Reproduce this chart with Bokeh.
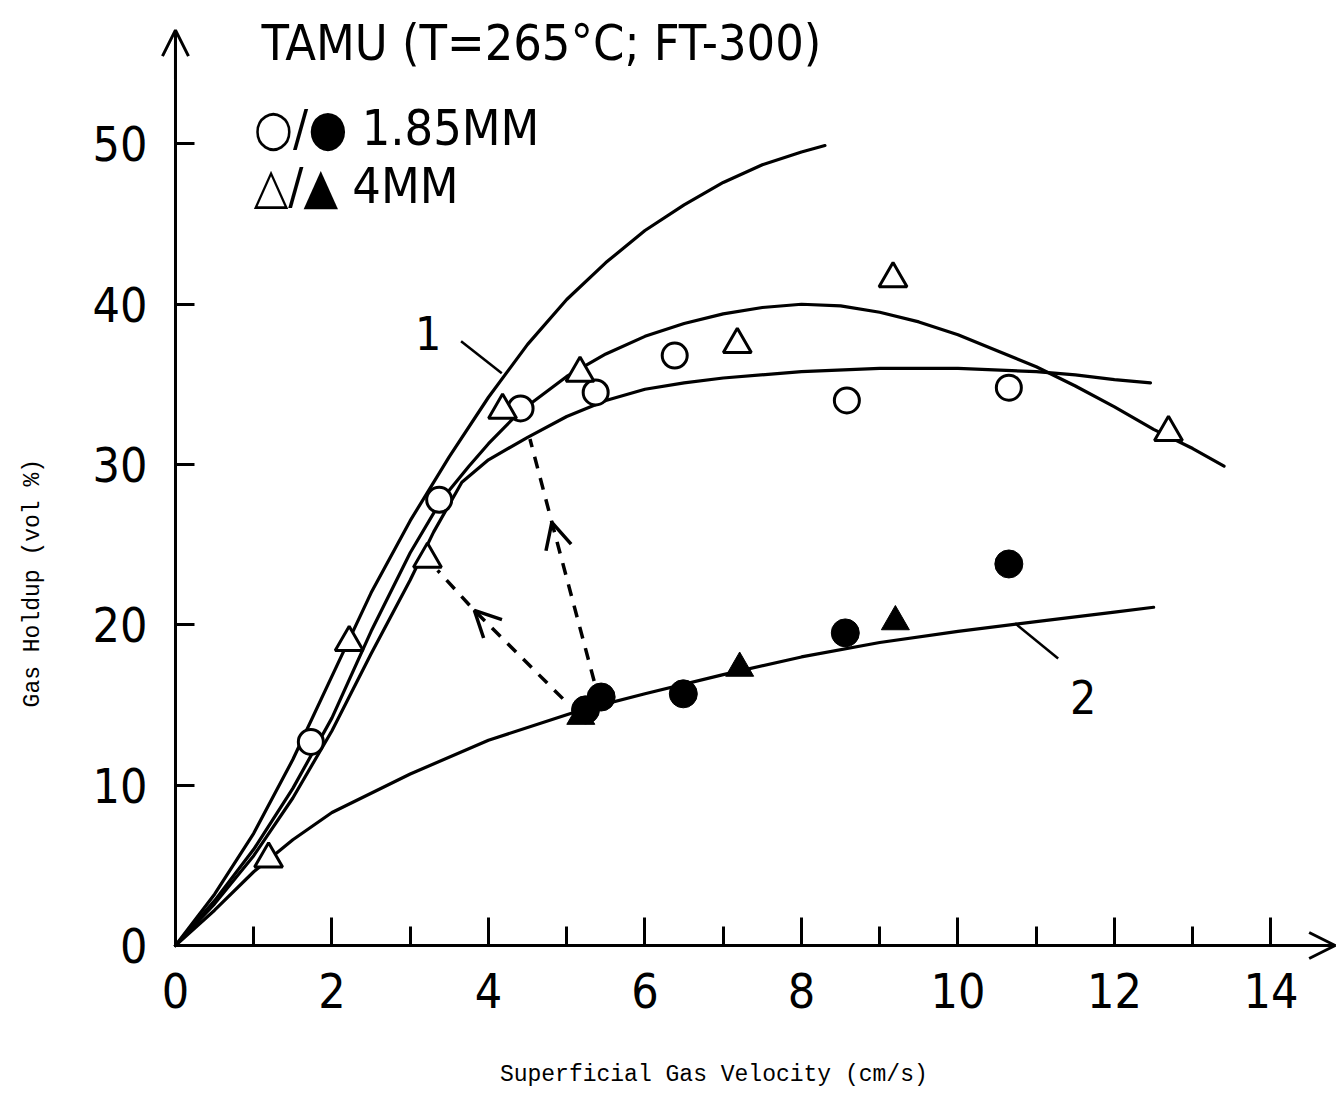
import math
from bokeh.plotting import figure
from bokeh.models import Label, Arrow, OpenHead, FixedTicker, Range1d
from bokeh.embed import file_html
from bokeh.resources import INLINE

# ---- data ----
# 1.85 mm particles: open = upper values, filled = lower values
circ_open_x = [1.73, 3.37, 4.41, 5.37, 6.38, 8.58, 10.65]
circ_open_y = [12.7, 27.8, 33.5, 34.5, 36.8, 34.0, 34.8]
circ_fill_x = [5.24, 5.44, 6.49, 8.56, 10.65]
circ_fill_y = [14.7, 15.5, 15.7, 19.5, 23.8]
# 4 mm particles
tri_open_x = [1.19, 2.22, 3.22, 4.18, 5.17, 7.18, 9.17, 12.69]
tri_open_y = [5.4, 18.9, 24.1, 33.4, 35.7, 37.5, 41.6, 32.0]
tri_fill_x = [5.18, 7.21, 9.20]
tri_fill_y = [14.3, 17.3, 20.2]

# curves
curveA_x = [0, 0.5, 1, 1.5, 2, 2.5, 3, 3.5, 4, 4.5, 5, 5.5, 6, 6.5, 7, 7.5, 8, 8.3]
curveA_y = [0, 3.2, 7.0, 11.6, 16.8, 22.0, 26.5, 30.5, 34.2, 37.5, 40.3, 42.6, 44.6, 46.2, 47.6, 48.7, 49.5, 49.9]
curveB_x = [0, 0.5, 1, 1.5, 2, 2.5, 3, 3.4, 3.75, 4, 4.4, 5, 5.5, 6, 6.5, 7, 7.5, 8, 8.5, 9,
            9.5, 10, 10.5, 11, 11.5, 12, 12.5, 13, 13.4]
curveB_y = [0, 2.8, 6.0, 9.8, 14.2, 19.6, 24.5, 27.8, 29.9, 31.3, 33.3, 35.5, 36.9, 38.0, 38.8, 39.4, 39.8, 40.0, 39.9, 39.5,
            38.9, 38.1, 37.1, 36.1, 34.9, 33.6, 32.2, 31.0, 29.9]
curveC_x = [0, 0.5, 1, 1.5, 2, 2.5, 3, 3.3, 3.66, 4, 4.5, 5, 5.5, 6, 6.5, 7, 8, 9, 10, 11, 11.5, 12, 12.46]
curveC_y = [0, 2.6, 5.6, 9.2, 13.4, 18.2, 22.8, 25.8, 28.9, 30.3, 31.7, 33.0, 34.0, 34.7, 35.1, 35.4, 35.8, 36.0, 36.0, 35.8, 35.6, 35.3, 35.1]
curveD_x = [0, 0.5, 1, 1.5, 2, 3, 4, 5, 5.2, 6, 7, 8, 9, 10, 11, 12, 12.5]
curveD_y = [0, 2.2, 4.6, 6.6, 8.3, 10.7, 12.8, 14.4, 14.7, 15.7, 16.9, 18.0, 18.9, 19.6, 20.2, 20.8, 21.1]

# dashed arrows (start, head position, end)
dash1_x = [4.95, 3.82, 3.35]
dash1_y = [15.4, 20.9, 23.4]
dash2_x = [5.35, 4.81, 4.53]
dash2_y = [16.5, 26.4, 31.6]

# curve label leaders
lead1_x = [3.65, 4.17]
lead1_y = [37.7, 35.7]
lead2_x = [10.73, 11.28]
lead2_y = [20.1, 17.9]

x_ticks = [0, 2, 4, 6, 8, 10, 12, 14]
x_minor = [1, 3, 5, 7, 9, 11, 13]
y_ticks = [0, 10, 20, 30, 40, 50]

HAND = "DejaVu Sans Condensed"
MONO = "Liberation Mono"

p = figure(width=1337, height=1093, output_backend="svg", toolbar_location=None,
           x_range=Range1d(-2.236, 14.85), y_range=Range1d(-9.233, 58.95),
           min_border=0)
p.outline_line_color = None
p.grid.visible = False
p.background_fill_color = "white"
p.border_fill_color = "white"

for ax in (p.xaxis, p.yaxis):
    ax.fixed_location = 0
    ax.axis_line_width = 3
    ax.axis_line_color = "black"
    ax.major_tick_line_width = 3
    ax.minor_tick_line_width = 3
    ax.major_tick_line_color = "black"
    ax.minor_tick_line_color = "black"
    ax.major_tick_out = 0
    ax.minor_tick_out = 0
    ax.major_label_text_font = HAND
    ax.major_label_text_font_size = "48px"
    ax.major_label_text_color = "black"

p.xaxis.bounds = (0, 14.82)
p.xaxis.ticker = FixedTicker(ticks=x_ticks, minor_ticks=x_minor)
p.xaxis.major_tick_in = 28
p.xaxis.minor_tick_in = 19
p.xaxis.major_label_standoff = 28

p.yaxis.bounds = (0, 57.1)
p.yaxis.ticker = FixedTicker(ticks=y_ticks, minor_ticks=[])
p.yaxis.major_tick_in = 19
p.yaxis.minor_tick_in = 0
p.yaxis.major_label_standoff = 28

# axis arrow heads
p.add_layout(Arrow(end=OpenHead(size=26, line_width=3, line_color="black"),
                   x_start=0, y_start=54, x_end=0, y_end=57.1, line_width=3, line_color="black"))
p.add_layout(Arrow(end=OpenHead(size=26, line_width=3, line_color="black"),
                   x_start=14.2, y_start=0, x_end=14.82, y_end=0, line_width=3, line_color="black"))

# curves
for cx, cy in ((curveA_x, curveA_y), (curveB_x, curveB_y), (curveC_x, curveC_y), (curveD_x, curveD_y)):
    p.line(cx, cy, line_color="black", line_width=3.2, line_cap="round", line_join="round")

# leaders
p.line(lead1_x, lead1_y, line_color="black", line_width=2.5)
p.line(lead2_x, lead2_y, line_color="black", line_width=2.5)

# dashed arrows
for dx, dy in ((dash1_x, dash1_y), (dash2_x, dash2_y)):
    p.line(dx, dy, line_color="black", line_width=3.5, line_dash="12 10")
    p.add_layout(Arrow(end=OpenHead(size=26, line_width=3.5, line_color="black"),
                       x_start=dx[0], y_start=dy[0], x_end=dx[1], y_end=dy[1],
                       line_alpha=0))

# markers
p.scatter(circ_open_x, circ_open_y, marker="circle", size=25, fill_color="white",
          line_color="black", line_width=3)
p.scatter(tri_open_x, tri_open_y, marker="triangle", size=28, fill_color="white",
          line_color="black", line_width=3)
p.scatter(circ_fill_x, circ_fill_y, marker="circle", size=28, fill_color="black",
          line_color="black", line_width=1)
p.scatter(tri_fill_x, tri_fill_y, marker="triangle", size=28, fill_color="black",
          line_color="black", line_width=1)

# header text
hdr = dict(text_font=HAND, text_font_size="50px", text_baseline="middle",
           text_align="left", text_color="black")
p.add_layout(Label(x=1.1, y=56.3, text="TAMU (T=265\u00b0C; FT-300)", **hdr))
p.add_layout(Label(x=1.0, y=51.0, text="\u25cb/\u25cf 1.85MM", **hdr))
p.add_layout(Label(x=1.0, y=47.4, text="\u25b3/\u25b2 4MM", **hdr))

# curve numbers
num = dict(text_font=HAND, text_font_size="46px", text_baseline="middle",
           text_align="center", text_color="black")
p.add_layout(Label(x=3.23, y=38.2, text="1", **num))
p.add_layout(Label(x=11.6, y=15.5, text="2", **num))

# axis titles
ttl = dict(text_font=MONO, text_font_size="23px", text_baseline="middle",
           text_align="center", text_color="black")
p.add_layout(Label(x=6.88, y=-8.1, text="Superficial Gas Velocity (cm/s)", **ttl))
p.add_layout(Label(x=-1.815, y=22.6, text="Gas Holdup (vol %)", angle=math.pi / 2, **ttl))

open("out.html", "w").write(file_html(p, INLINE))
